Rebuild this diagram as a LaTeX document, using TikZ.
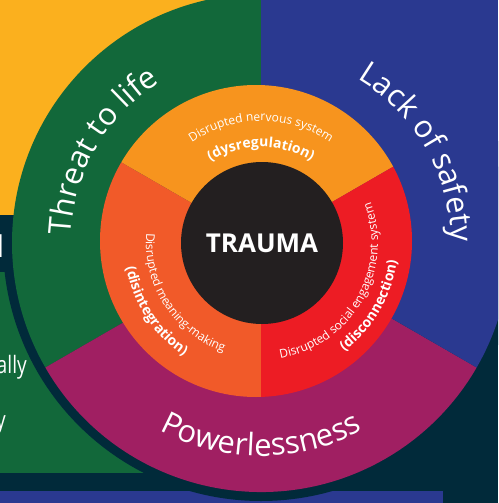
\documentclass[tikz,border=0pt]{standalone}
\usepackage{fontspec}
\setmainfont{Open Sans}
\usepackage{tikz}
\usetikzlibrary{decorations.text}
\definecolor{bgnavy}{RGB}{1,42,58}
\definecolor{sunyellow}{RGB}{251,176,30}
\definecolor{lifegreen}{RGB}{18,104,58}
\definecolor{safeblue}{RGB}{42,57,144}
\definecolor{powerpurple}{RGB}{160,31,98}
\definecolor{nerveorange}{RGB}{247,148,30}
\definecolor{meaningorange}{RGB}{241,90,41}
\definecolor{socialred}{RGB}{237,28,36}
\definecolor{coreblack}{RGB}{35,31,32}
\newcommand{\ringlab}{\fontsize{31}{31}\selectfont}
\newcommand{\sublab}{\fontsize{12}{12}\selectfont}
\newcommand{\subbold}{\fontsize{14}{14}\selectfont\bfseries}
\tikzset{arclabel/.style={decorate, decoration={text along path, text align=center, text color=white, text={#1}}}}

\begin{document}
\begin{tikzpicture}[x=1pt,y=1pt]
\tikzstyle{every node}+=[inner sep=0pt]
\useasboundingbox (0,0) rectangle (498,-503);
\clip (0,0) rectangle (498,-503);
\fill [bgnavy] (0,0) rectangle (498,-503);
\fill [lifegreen] (0,-272) rectangle (200,-473);
\fill [safeblue] (0,-491) rectangle (443,-503);
\fill [bgnavy] (0,-215) rectangle (60,-272);
\node [anchor=base east, text=white, font=\fontsize{30}{30}\selectfont] (edgel) at (4.5,-257) {l};
\node [anchor=base east, text=white, font=\fontsize{24}{24}\selectfont] (edgeally) at (27,-373) {\scalebox{0.8}[1]{ally}};
\node [anchor=base east, text=white, font=\fontsize{24}{24}\selectfont] (edgey) at (6,-428) {\scalebox{0.8}[1]{y}};
\begin{scope}[shift={(261,-243)}]
\fill [bgnavy] (0,0) circle (258);
\fill [sunyellow] (-261,243) rectangle (0,28);
\fill [safeblue] (0,243) rectangle (237,-2);
\fill [lifegreen] (0,0) -- (90:249) arc (90:210:249) -- cycle;
\fill [powerpurple] (0,0) -- (210:249) arc (210:330:249) -- cycle;
\fill [safeblue] (0,0) -- (330:249) arc (330:450:249) -- cycle;
\begin{scope}
\clip (-5,2) circle (156);
\fill [nerveorange] (0,0) -- (30:200) arc (30:150:200) -- cycle;
\fill [meaningorange] (0,0) -- (150:200) arc (150:270:200) -- cycle;
\fill [socialred] (0,0) -- (270:200) arc (270:390:200) -- cycle;
\end{scope}
\node [circle, fill=coreblack, minimum size=162, text=white, font=\fontsize{26}{26}\selectfont\bfseries] (trauma) at (1,0) {TRAUMA};
\path [arclabel={|\ringlab|Threat to life}] (210:190) arc (210:90:190);
\path [arclabel={|\ringlab|Lack of safety}] (90:190) arc (90:-30:190);
\path [arclabel={|\ringlab|Powerlessness}] (210:213) arc (210:330:213);
\path [arclabel={|\sublab|Disrupted nervous system}] (150:122) arc (150:30:122);
\path [arclabel={|\subbold|(dysregulation)}] (150:96) arc (150:30:96);
\path [arclabel={|\sublab|Disrupted meaning-making}] (153:115) arc (153:273:115);
\path [arclabel={|\subbold|(disintegration)}] (153:137) arc (153:273:137);
\path [arclabel={|\sublab|Disrupted social engagement system}] (270:117) arc (270:390:117);
\path [arclabel={|\subbold|(disconnection)}] (270:137) arc (270:390:137);
\end{scope}
\end{tikzpicture}
\end{document}
